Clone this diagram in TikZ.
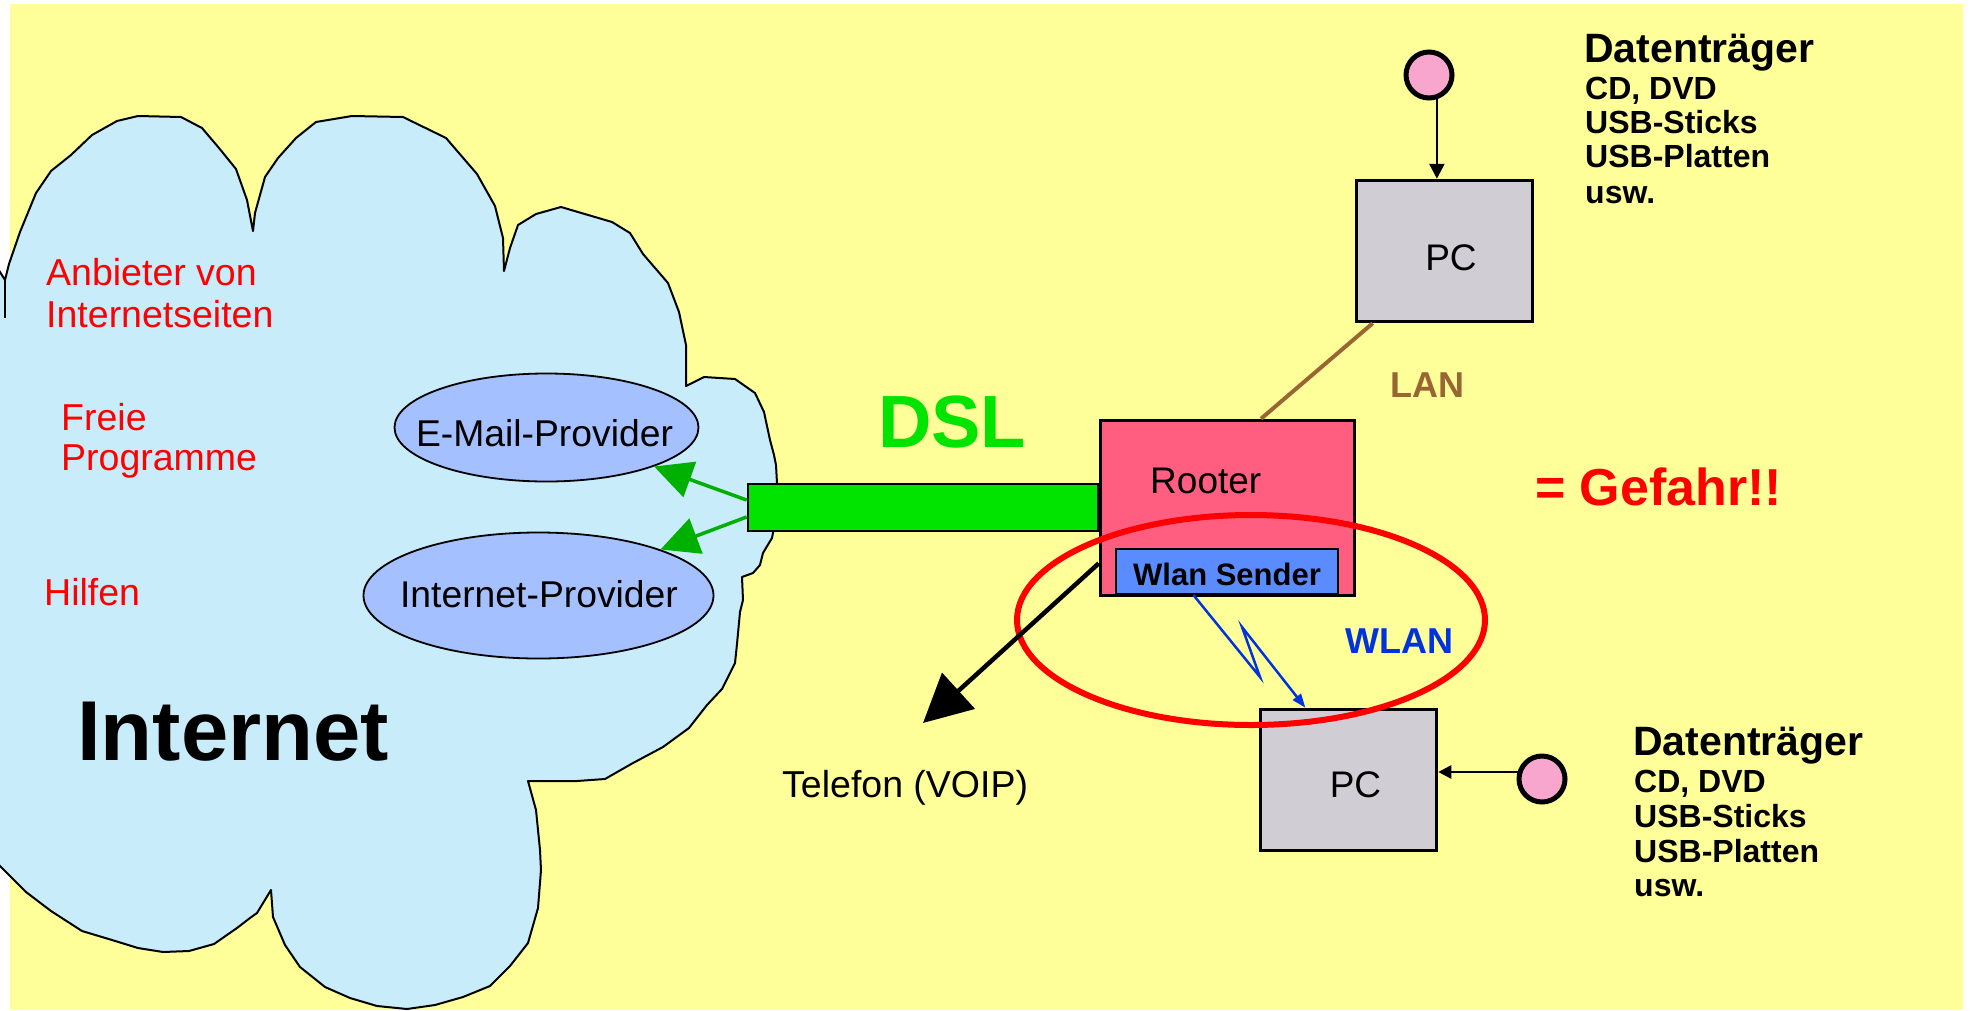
\documentclass[tikz,border=0pt]{standalone}
\usepackage{fontspec}
\setmainfont{Liberation Sans}
\usetikzlibrary{arrows.meta,shapes.geometric,calc}

\definecolor{bgyellow}{RGB}{255,255,153}
\definecolor{cloudblue}{RGB}{200,236,250}
\definecolor{provblue}{RGB}{164,192,255}
\definecolor{dslgreen}{RGB}{0,228,0}
\definecolor{arrowgreen}{RGB}{0,176,0}
\definecolor{rooterred}{RGB}{255,94,128}
\definecolor{wlanblue}{RGB}{90,140,255}
\definecolor{pcgray}{RGB}{208,206,212}
\definecolor{diskpink}{RGB}{248,166,206}
\definecolor{lanbrown}{RGB}{153,102,51}
\definecolor{wlantext}{RGB}{0,51,221}

\newcommand{\fsz}[1]{\fontsize{#1}{#1}\selectfont}

\begin{document}
\begin{tikzpicture}[x=1pt,y=-1pt,
  txt/.style={inner sep=0pt, anchor=base west},
  redtxt/.style={txt, text=red, font=\fsz{37.5}},
  provider/.style={ellipse, draw, line width=1.8pt, fill=provblue, inner sep=0pt},
  provtext/.style={inner sep=0pt, anchor=base, font=\fsz{37.3}},
  boxframe/.style={rectangle, draw, line width=3.5pt, inner sep=0pt},
  pcbox/.style={boxframe, fill=pcgray, minimum width=176pt, minimum height=141pt},
  pctext/.style={inner sep=0pt, anchor=base, font=\fsz{37}},
  disk/.style={circle, draw, line width=5pt, fill=diskpink, minimum size=46pt, inner sep=0pt},
  dtbig/.style={txt, font=\bfseries\fsz{41}},
  dtsmall/.style={txt, font=\bfseries\fsz{32}},
  greenarrow/.style={arrowgreen, line width=3.5pt, -{Triangle[length=38pt,width=37pt]}},
  diskarrow/.style={line width=2.5pt, -{Triangle[length=15pt,width=15pt]}}
]
\useasboundingbox (0,0) rectangle (1970,1010);
\clip (0,0) rectangle (1970,1010);
\fill[white] (0,0) rectangle (1970,1010);
\fill[bgyellow] (10,4) rectangle (1963,1010);

% cloud
\draw[fill=cloudblue, line width=2pt, line join=round]
  (-20,240) -- (5,280) -- (9,264) -- (20,232) -- (36,193) -- (51,171) -- (71,155)
  -- (92,135) -- (117,121) -- (138,116) -- (181,117) -- (202,128) -- (219,148)
  -- (236,169) -- (247,200) -- (253,231) -- (255,213) -- (265,177) -- (278,158)
  -- (296,138) -- (316,122) -- (352,116) -- (403,117) -- (446,138) -- (477,174)
  -- (495,206) -- (503,238) -- (504,271) -- (510,248) -- (518,225) -- (536,214)
  -- (561,207) -- (612,222) -- (630,233) -- (643,254) -- (668,283) -- (679,312)
  -- (686,345) -- (686,386) -- (704,377) -- (735,379) -- (755,393) -- (764,412)
  -- (770,440) -- (774,455) -- (776,465) -- (777,483) -- (776,510) -- (773,533)
  -- (772,538) -- (763,553) -- (760,565) -- (753,573) -- (742,577) -- (743,600)
  -- (740,612) -- (737,644) -- (735,663) -- (722,689) -- (707,705) -- (689,728)
  -- (663,747) -- (633,763) -- (605,779) -- (577,781) -- (528,781) -- (536,810)
  -- (540,850) -- (541,870) -- (538,908) -- (528,943) -- (510,966) -- (490,986)
  -- (463,997) -- (435,1005) -- (407,1009) -- (377,1006) -- (350,998) -- (325,987)
  -- (300,967) -- (285,945) -- (273,917) -- (271,890) -- (257,913) -- (250,918)
  -- (237,928) -- (214,944) -- (189,951) -- (163,952) -- (138,948) -- (112,940)
  -- (82,931) -- (51,911) -- (26,892) -- (0,866) -- (-20,850) -- cycle;
\draw[line width=2pt] (5,280) -- (5,318);

% texts in the cloud
\node[redtxt] (anb1) at (46,285) {Anbieter von};
\node[redtxt] (anb2) at (46,327) {Internetseiten};
\node[redtxt] (frei1) at (61,430) {Freie};
\node[redtxt] (frei2) at (61,470) {Programme};
\node[redtxt] (hilf) at (44,605.5) {Hilfen};
\node[txt, font=\bfseries\fsz{85}] (inet) at (77,760) {Internet};

\node[provider, minimum width=304pt, minimum height=108pt] (email) at (546.5,427.5) {};
\node[provtext] (emailtext) at (544.5,446) {E-Mail-Provider};
\node[provider, minimum width=350pt, minimum height=126pt] (iprov) at (538.5,595.5) {};
\node[provtext] (iprovtext) at (539,607) {Internet-Provider};

% DSL bar and router
\node[rectangle, draw, line width=2.5pt, fill=dslgreen, minimum width=350pt, minimum height=47pt, inner sep=0pt] (bar) at (923,507.5) {};
\node[txt, text=dslgreen, font=\bfseries\fsz{74}] (dsl) at (878,447) {DSL};

\node[boxframe, fill=rooterred, minimum width=254pt, minimum height=175pt] (rooter) at (1227.5,508) {};
\node[txt, font=\fsz{37}] (rootertext) at (1150,493) {Rooter};
\node[rectangle, draw, line width=2pt, fill=wlanblue, minimum width=222pt, minimum height=45pt, inner sep=0pt,
      font=\bfseries\fsz{31}, text height=27pt, text depth=0pt] (wlan) at (1227,571.5) {Wlan Sender};

\draw[greenarrow] ($(bar.north west)!0.35!(bar.south west)$) -- (email);
\draw[greenarrow] ($(bar.north west)!0.69!(bar.south west)$) -- (iprov);

% PCs and data carriers
\node[pcbox] (pc1) at (1444.5,251) {};
\node[pctext] (pc1text) at (1451,270) {PC};
\node[disk] (disk1) at (1429,75) {};
\draw[diskarrow] (disk1.-72) -- (disk1.-72 |- pc1.north);

\node[pcbox] (pc2) at (1348.5,780) {};
\node[pctext] (pc2text) at (1355.5,797) {PC};
\node[disk] (disk2) at (1542,779) {};
\draw[line width=2.5pt, -{Triangle[length=13pt,width=13pt]}] (disk2.164) -- (disk2.164 -| pc2.east);

\node[dtbig] (dt1a) at (1584,62) {Datenträger};
\node[dtsmall] (dt1b) at (1585,99) {CD, DVD};
\node[dtsmall] (dt1c) at (1585,133) {USB-Sticks};
\node[dtsmall] (dt1d) at (1585,167) {USB-Platten};
\node[dtsmall] (dt1e) at (1585,203) {usw.};

\node[dtbig] (dt2a) at (1633,755) {Datenträger};
\node[dtsmall] (dt2b) at (1634,792) {CD, DVD};
\node[dtsmall] (dt2c) at (1634,827) {USB-Sticks};
\node[dtsmall] (dt2d) at (1634,862) {USB-Platten};
\node[dtsmall] (dt2e) at (1634,896) {usw.};

% LAN
\draw[lanbrown, line width=4pt] ($(pc1.south west)!0.1!(pc1.south east)$) -- ($(rooter.north west)!0.63!(rooter.north east)$);
\node[txt, text=lanbrown, font=\bfseries\fsz{36}] (lan) at (1390,397) {LAN};

% danger ring
\node[ellipse, draw=red, line width=6pt, minimum width=468pt, minimum height=210pt, inner sep=0pt] (ring) at (1251,620) {};
\node[txt, text=red, font=\bfseries\fsz{52}] (gefahr) at (1535,505) {= Gefahr!!};

% WLAN bolt
\coordinate (bolt1) at (1260,677);
\coordinate (bolt2) at (1242,627);
\draw[wlantext, line width=2.5pt, line join=miter, -{Triangle[length=14pt,width=10pt]}]
  ($(wlan.south west)!0.35!(wlan.south east)$) -- (bolt1) -- (bolt2) -- ($(pc2.north west)!0.26!(pc2.north east)$);
\node[txt, text=wlantext, font=\bfseries\fsz{36}] (wlanlabel) at (1345,653) {WLAN};

% telephone
\coordinate (teltip) at (923,723);
\draw[line width=4.5pt, -{Triangle[length=48pt,width=48pt]}] ($(rooter.north west)!0.81!(rooter.south west)$) -- (teltip);
\node[txt, font=\fsz{37.5}] (telefon) at (782,797) {Telefon (VOIP)};
\end{tikzpicture}
\end{document}
